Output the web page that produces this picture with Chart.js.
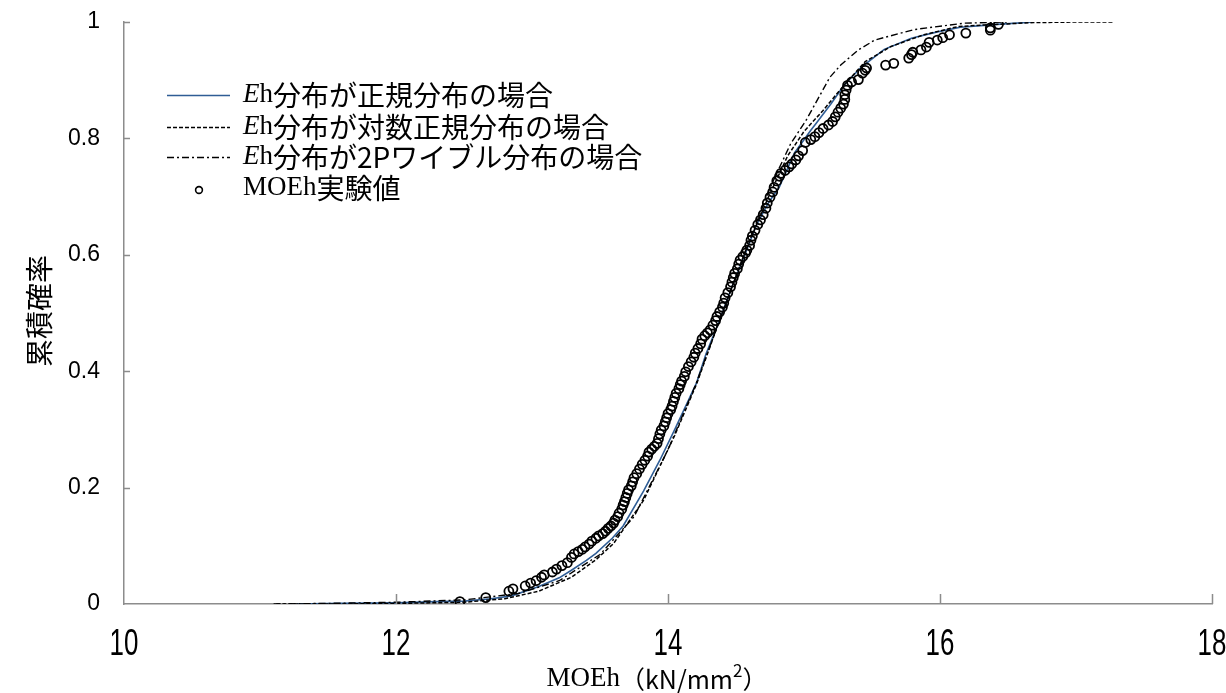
<!DOCTYPE html>
<html lang="ja">
<head>
<meta charset="utf-8">
<title>MOEh 累積確率</title>
<script src="https://cdn.jsdelivr.net/npm/chart.js@4.4.1/dist/chart.umd.min.js"></script>
<style>
  html, body { margin: 0; padding: 0; background: #fff; }
</style>
</head>
<body>
<canvas id="cdfChart" width="1226" height="693"></canvas>
<script>
// Measured MOEh values (kN/mm2) and their cumulative probability
const obsX = [12.47, 12.66, 12.83, 12.86, 12.95, 12.99, 13.03, 13.07, 13.09, 13.15,
  13.18, 13.22, 13.26, 13.29, 13.31, 13.34, 13.37, 13.39, 13.42, 13.44,
  13.47, 13.49, 13.52, 13.54, 13.56, 13.58, 13.60, 13.61, 13.63, 13.64,
  13.66, 13.67, 13.68, 13.69, 13.70, 13.71, 13.73, 13.74, 13.75, 13.77,
  13.79, 13.81, 13.83, 13.85, 13.86, 13.88, 13.90, 13.92, 13.93, 13.94,
  13.95, 13.97, 13.98, 13.99, 14.00, 14.02, 14.03, 14.04, 14.05, 14.06,
  14.08, 14.09, 14.10, 14.12, 14.13, 14.15, 14.17, 14.19, 14.20, 14.22,
  14.24, 14.25, 14.27, 14.29, 14.31, 14.33, 14.35, 14.36, 14.38, 14.40,
  14.41, 14.42, 14.44, 14.46, 14.47, 14.48, 14.49, 14.51, 14.52, 14.53,
  14.55, 14.57, 14.58, 14.60, 14.61, 14.62, 14.64, 14.66, 14.68, 14.70,
  14.72, 14.73, 14.75, 14.77, 14.78, 14.80, 14.82, 14.83, 14.86, 14.89,
  14.91, 14.94, 14.96, 14.99, 15.01, 15.05, 15.08, 15.11, 15.14, 15.18,
  15.21, 15.23, 15.25, 15.27, 15.29, 15.30, 15.30, 15.31, 15.32, 15.35,
  15.40, 15.43, 15.45, 15.46, 15.60, 15.66, 15.77, 15.79, 15.80, 15.86,
  15.90, 15.92, 15.98, 16.02, 16.07, 16.19, 16.37, 16.37, 16.43];
const obsY = [0.004, 0.011, 0.022, 0.026, 0.031, 0.036, 0.040, 0.046, 0.050, 0.055,
  0.060, 0.066, 0.071, 0.080, 0.086, 0.090, 0.094, 0.098, 0.103, 0.108,
  0.113, 0.117, 0.121, 0.125, 0.130, 0.134, 0.139, 0.144, 0.150, 0.156,
  0.163, 0.170, 0.176, 0.183, 0.190, 0.196, 0.203, 0.210, 0.217, 0.224,
  0.232, 0.240, 0.247, 0.254, 0.261, 0.266, 0.271, 0.276, 0.284, 0.292,
  0.299, 0.306, 0.313, 0.320, 0.327, 0.334, 0.340, 0.348, 0.355, 0.362,
  0.370, 0.377, 0.383, 0.391, 0.399, 0.408, 0.416, 0.424, 0.431, 0.439,
  0.447, 0.455, 0.461, 0.466, 0.471, 0.479, 0.487, 0.494, 0.502, 0.510,
  0.517, 0.526, 0.535, 0.545, 0.553, 0.561, 0.568, 0.576, 0.584, 0.591,
  0.597, 0.603, 0.608, 0.616, 0.625, 0.632, 0.642, 0.652, 0.660, 0.669,
  0.680, 0.689, 0.699, 0.708, 0.716, 0.727, 0.735, 0.740, 0.745, 0.751,
  0.756, 0.763, 0.770, 0.779, 0.793, 0.798, 0.803, 0.810, 0.817, 0.823,
  0.829, 0.837, 0.845, 0.852, 0.859, 0.867, 0.875, 0.883, 0.891, 0.897,
  0.901, 0.912, 0.917, 0.921, 0.926, 0.929, 0.938, 0.944, 0.948, 0.952,
  0.957, 0.965, 0.969, 0.973, 0.978, 0.981, 0.986, 0.990, 0.996];

// Fitted distribution of Eh: normal
const normX = [11.27, 11.60, 12.00, 12.30, 12.50, 12.70, 12.85, 13.05, 13.20, 13.29,
  13.40, 13.47, 13.59, 13.67, 13.82, 13.94, 14.05, 14.15, 14.21, 14.28,
  14.38, 14.47, 14.57, 14.65, 14.74, 14.82, 14.93, 15.05, 15.09, 15.20,
  15.30, 15.42, 15.59, 15.79, 15.98, 16.15, 16.42, 16.69];
const normY = [0.000, 0.001, 0.002, 0.004, 0.005, 0.009, 0.014, 0.030, 0.045, 0.058,
  0.075, 0.087, 0.113, 0.134, 0.194, 0.247, 0.300, 0.350, 0.380, 0.430,
  0.488, 0.545, 0.603, 0.651, 0.690, 0.717, 0.775, 0.814, 0.826, 0.860,
  0.893, 0.922, 0.953, 0.972, 0.983, 0.991, 0.996, 1.000];

// Fitted distribution of Eh: log-normal
const lognX = [11.12, 11.60, 12.00, 12.50, 12.80, 13.05, 13.29, 13.47, 13.60, 13.82,
  14.05, 14.21, 14.38, 14.57, 14.74, 14.88, 15.00, 15.14, 15.30, 15.45,
  15.64, 15.88, 16.13, 16.33, 16.69, 17.00, 17.27];
const lognY = [0.000, 0.000, 0.001, 0.003, 0.009, 0.022, 0.046, 0.076, 0.104, 0.178,
  0.290, 0.378, 0.488, 0.607, 0.700, 0.770, 0.812, 0.848, 0.893, 0.932,
  0.958, 0.978, 0.992, 0.995, 0.999, 1.000, 1.000];

// Fitted distribution of Eh: 2-parameter Weibull
const weibX = [11.10, 11.50, 12.00, 12.50, 12.90, 13.20, 13.50, 13.75, 14.00, 14.20,
  14.40, 14.60, 14.75, 14.90, 15.02, 15.19, 15.27, 15.40, 15.52, 15.81,
  16.18, 16.50];
const weibY = [0.000, 0.001, 0.003, 0.007, 0.018, 0.040, 0.085, 0.150, 0.265, 0.375,
  0.500, 0.625, 0.715, 0.790, 0.833, 0.905, 0.926, 0.952, 0.969, 0.987,
  0.998, 1.000];

const xTicks = [10, 12, 14, 16, 18];
const yTicks = [0, 0.2, 0.4, 0.6, 0.8, 1];

const BLUE = '#2f5d95';
const AXIS = '#8c8c8c';
const JP = '"Noto Sans CJK JP", "Noto Sans", sans-serif';
const SERIF = '"Liberation Serif", "DejaVu Serif", serif';
const SANS = '"Liberation Sans", Arial, sans-serif';

const DASH = [4, 2];
const DASH_DOT = [7, 3, 2, 3];

function toPoints(xs, ys) {
  return xs.map((x, i) => ({ x: x, y: ys[i] }));
}

// Draws a run of text pieces, each with its own font, starting at x
function drawParts(ctx, parts, x, y) {
  let cx = x;
  parts.forEach(p => {
    ctx.font = p.font;
    ctx.fillText(p.text, cx, y + (p.dy || 0));
    cx += ctx.measureText(p.text).width;
  });
  return cx;
}

function partsWidth(ctx, parts) {
  let w = 0;
  parts.forEach(p => {
    ctx.font = p.font;
    w += ctx.measureText(p.text).width;
  });
  return w;
}

const fItalic = 'italic 27px ' + SERIF;
const fSerif = '27px ' + SERIF;
const fJp = '28px ' + JP;

const legendRows = [
  { kind: 'line', color: BLUE, dash: [], width: 1.6,
    parts: [{ text: 'E', font: fItalic }, { text: 'h', font: fSerif }, { text: '分布が正規分布の場合', font: fJp }] },
  { kind: 'line', color: '#000', dash: DASH, width: 1.4,
    parts: [{ text: 'E', font: fItalic }, { text: 'h', font: fSerif }, { text: '分布が対数正規分布の場合', font: fJp }] },
  { kind: 'line', color: '#000', dash: DASH_DOT, width: 1.4,
    parts: [{ text: 'E', font: fItalic }, { text: 'h', font: fSerif }, { text: '分布が2Pワイブル分布の場合', font: fJp }] },
  { kind: 'point',
    parts: [{ text: 'MOEh', font: fSerif }, { text: '実験値', font: fJp }] }
];

// Inward tick marks, condensed x tick labels, axis titles and the legend
const decorPlugin = {
  id: 'decor',
  afterDraw(chart) {
    const ctx = chart.ctx;
    const xs = chart.scales.x;
    const ys = chart.scales.y;
    const area = chart.chartArea;

    ctx.save();
    ctx.strokeStyle = AXIS;
    ctx.lineWidth = 1.5;
    ctx.beginPath();
    xTicks.forEach(v => {
      if (v === xs.min) return;
      const px = Math.round(xs.getPixelForValue(v)) + 0.5;
      ctx.moveTo(px, area.bottom);
      ctx.lineTo(px, area.bottom - 10);
    });
    yTicks.forEach(v => {
      if (v === ys.min) return;
      const py = Math.round(ys.getPixelForValue(v)) + 0.5;
      ctx.moveTo(area.left, py);
      ctx.lineTo(area.left + 6, py);
    });
    ctx.stroke();

    // x tick labels in a narrow face
    ctx.fillStyle = '#000';
    ctx.textAlign = 'center';
    ctx.textBaseline = 'alphabetic';
    ctx.font = '36px ' + SANS;
    xTicks.forEach(v => {
      const px = xs.getPixelForValue(v);
      ctx.save();
      ctx.translate(px, area.bottom + 51);
      ctx.scale(0.72, 1);
      ctx.fillText(String(v), 0, 0);
      ctx.restore();
    });

    // y axis title
    ctx.textBaseline = 'middle';
    ctx.save();
    ctx.translate(39, 311);
    ctx.rotate(-Math.PI / 2);
    ctx.font = '28px ' + JP;
    ctx.fillText('累積確率', 0, 0);
    ctx.restore();

    // x axis title
    ctx.textAlign = 'left';
    const xTitle = [
      { text: 'MOEh', font: '27px ' + SERIF },
      { text: '（kN/mm', font: '25px ' + JP },
      { text: '2', font: '17px ' + JP, dy: -8 },
      { text: '）', font: '25px ' + JP }
    ];
    const tw = partsWidth(ctx, xTitle);
    drawParts(ctx, xTitle, 657 - tw / 2, 679);

    // legend
    const lx0 = 167, lx1 = 230, tx = 243;
    const rowY = [95, 127, 157, 188];
    legendRows.forEach((row, i) => {
      const y = rowY[i];
      if (row.kind === 'line') {
        ctx.save();
        ctx.strokeStyle = row.color;
        ctx.lineWidth = row.width;
        ctx.setLineDash(row.dash);
        ctx.beginPath();
        ctx.moveTo(lx0, y + 0.5);
        ctx.lineTo(lx1, y + 0.5);
        ctx.stroke();
        ctx.restore();
      } else {
        ctx.save();
        ctx.strokeStyle = '#000';
        ctx.lineWidth = 1.6;
        ctx.beginPath();
        ctx.arc(199, y + 2, 3.4, 0, Math.PI * 2);
        ctx.stroke();
        ctx.restore();
      }
      ctx.fillStyle = '#000';
      drawParts(ctx, row.parts, tx, y);
    });
    ctx.restore();
  }
};

const ctx = document.getElementById('cdfChart').getContext('2d');
new Chart(ctx, {
  type: 'scatter',
  data: {
    datasets: [
      {
        label: 'Eh分布が正規分布の場合',
        data: toPoints(normX, normY),
        showLine: true,
        borderColor: BLUE,
        borderWidth: 1.6,
        pointRadius: 0,
        tension: 0,
        order: 3
      },
      {
        label: 'Eh分布が対数正規分布の場合',
        data: toPoints(lognX, lognY),
        showLine: true,
        borderColor: '#000',
        borderWidth: 1.5,
        borderDash: DASH,
        pointRadius: 0,
        tension: 0,
        order: 2
      },
      {
        label: 'Eh分布が2Pワイブル分布の場合',
        data: toPoints(weibX, weibY),
        showLine: true,
        borderColor: '#000',
        borderWidth: 1.4,
        borderDash: DASH_DOT,
        pointRadius: 0,
        tension: 0,
        order: 1
      },
      {
        label: 'MOEh実験値',
        data: toPoints(obsX, obsY),
        showLine: false,
        pointStyle: 'circle',
        pointRadius: 4.5,
        pointBorderWidth: 1.8,
        pointBorderColor: '#000',
        pointBackgroundColor: 'rgba(255,255,255,0)',
        order: 0
      }
    ]
  },
  options: {
    responsive: false,
    animation: false,
    events: [],
    layout: {
      padding: { left: 0, right: 14, top: 22, bottom: 0 }
    },
    plugins: {
      legend: { display: false },
      tooltip: { enabled: false }
    },
    scales: {
      x: {
        type: 'linear',
        min: 10,
        max: 18,
        afterBuildTicks: scale => {
          scale.ticks = xTicks.map(v => ({ value: v }));
        },
        afterFit: scale => { scale.height = 89; },
        grid: { display: false },
        border: { display: true, color: AXIS, width: 1.5 },
        ticks: { display: false }
      },
      y: {
        type: 'linear',
        min: 0,
        max: 1,
        afterBuildTicks: scale => {
          scale.ticks = yTicks.map(v => ({ value: v }));
        },
        afterFit: scale => {
          scale.width = 124;
          scale.paddingTop = 0;
          scale.paddingBottom = 0;
        },
        grid: { display: false },
        border: { display: true, color: AXIS, width: 1.5 },
        ticks: {
          color: '#000',
          padding: 16,
          font: { family: SANS, size: 23 },
          callback: v => String(Math.round(v * 10) / 10)
        }
      }
    }
  },
  plugins: [decorPlugin]
});
</script>
</body>
</html>
